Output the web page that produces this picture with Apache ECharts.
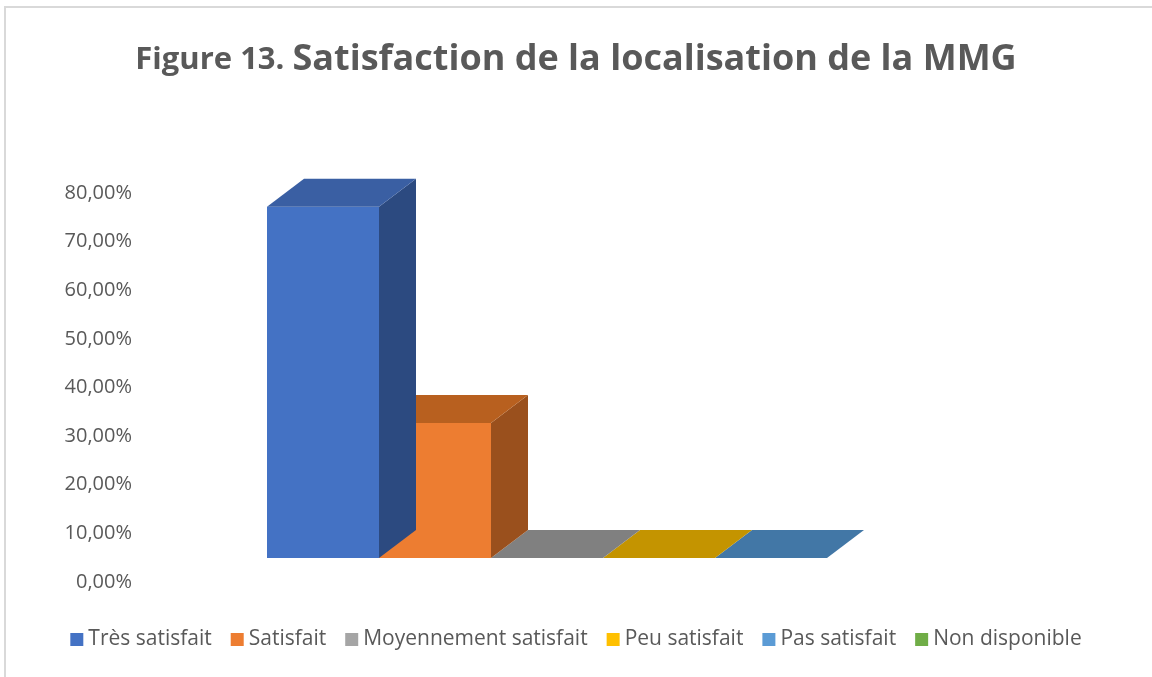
<!DOCTYPE html>
<html lang="fr">
<head>
    <meta charset="UTF-8">
    <title>Figure 13 - Satisfaction de la localisation de la MMG</title>
    <script src="https://cdn.jsdelivr.net/npm/echarts@6/dist/echarts.min.js"></script>
    <style>
        html, body { margin: 0; padding: 0; background: #fff; }
        #frame { position: absolute; left: 4px; top: 6px; width: 1160px; height: 690px; border: 2px solid #d9d9d9; box-sizing: border-box; }
        #mybox { position: absolute; left: 0; top: 0; width: 1152px; height: 677px; }
    </style>
</head>
<body>
<div id="frame"></div>
<div id="mybox"></div>
<script>
    // données
    var categories = ['Très satisfait', 'Satisfait', 'Moyennement satisfait', 'Peu satisfait', 'Pas satisfait', 'Non disponible'];
    var values = [72.22, 27.78, 0, 0, 0, null];
    var yTicks = [0, 10, 20, 30, 40, 50, 60, 70, 80];

    // couleurs : face avant, dessus, côté
    var frontColors = ['#4472C4', '#ED7D31', '#A5A5A5', '#FFC000', '#5B9BD5', '#70AD47'];
    var topColors = ['#3A5FA3', '#B8601F', '#808080', '#C49400', '#4277A6', '#558A36'];
    var sideColors = ['#2C4A80', '#9A501D', '#6E6E6E', '#A07A00', '#335E85', '#446E2B'];

    var floorShift = 24;   // face avant posée un peu au-dessus du zéro de l'axe
    var depthX = 37, depthY = 28;

    function renderBox(params, api) {
        var i = api.value(0);
        var v = api.value(1);
        var p0 = api.coord([i, 0]);
        var p1 = api.coord([i, v]);
        var w = api.size([1, 0])[0];
        var x0 = p0[0] - w / 2, x1 = p0[0] + w / 2;
        var yb = p0[1] - floorShift, yt = p1[1] - floorShift;
        var c = params.seriesIndex;
        var children = [];
        if (v > 0) {
            children.push({
                type: 'polygon',
                shape: { points: [[x1, yb], [x1 + depthX, yb - depthY], [x1 + depthX, yt - depthY], [x1, yt]] },
                style: { fill: sideColors[c] }
            });
            children.push({
                type: 'rect',
                shape: { x: x0, y: yt, width: w, height: yb - yt },
                style: { fill: frontColors[c] }
            });
        }
        children.push({
            type: 'polygon',
            shape: { points: [[x0, yt], [x0 + depthX, yt - depthY], [x1 + depthX, yt - depthY], [x1, yt]] },
            style: { fill: topColors[c] }
        });
        return { type: 'group', children: children };
    }

    var series = [];
    for (var k = 0; k < categories.length; k++) {
        series.push({
            name: categories[k],
            type: 'custom',
            renderItem: renderBox,
            itemStyle: { color: frontColors[k] },
            encode: { x: 0, y: 1 },
            data: values[k] === null ? [] : [[k, values[k]]],
            z: 10 - k
        });
    }

    var mychart = echarts.init(document.getElementById('mybox'));
    mychart.setOption({
        animation: false,
        title: {
            text: '{a|Figure 13. }{b|Satisfaction de la localisation de la MMG}',
            left: 'center',
            top: 37,
            textStyle: {
                rich: {
                    a: { fontFamily: 'Open Sans', fontWeight: 'bold', fontSize: 31, color: '#595959' },
                    b: { fontFamily: 'Open Sans', fontWeight: 'bold', fontSize: 36, color: '#595959' }
                }
            }
        },
        legend: {
            data: categories,
            bottom: 22,
            left: 'center',
            icon: 'rect',
            itemWidth: 13,
            itemHeight: 13,
            itemGap: 19,
            textStyle: { fontFamily: 'Open Sans', fontSize: 21, color: '#595959', padding: [0, 0, 0, 0] }
        },
        grid: { left: 267, right: 213, top: 193, bottom: 95 },
        xAxis: {
            type: 'category',
            data: categories,
            boundaryGap: true,
            axisLine: { show: false },
            axisTick: { show: false },
            axisLabel: { show: false }
        },
        yAxis: {
            type: 'value',
            min: yTicks[0],
            max: yTicks[yTicks.length - 1],
            interval: 10,
            splitLine: { show: false },
            axisLine: { show: false },
            axisTick: { show: false },
            axisLabel: {
                margin: 135,
                fontFamily: 'Open Sans',
                fontSize: 20,
                color: '#595959',
                formatter: function (v) { return v.toFixed(2).replace('.', ',') + '%'; }
            }
        },
        series: series
    });
</script>
</body>
</html>
